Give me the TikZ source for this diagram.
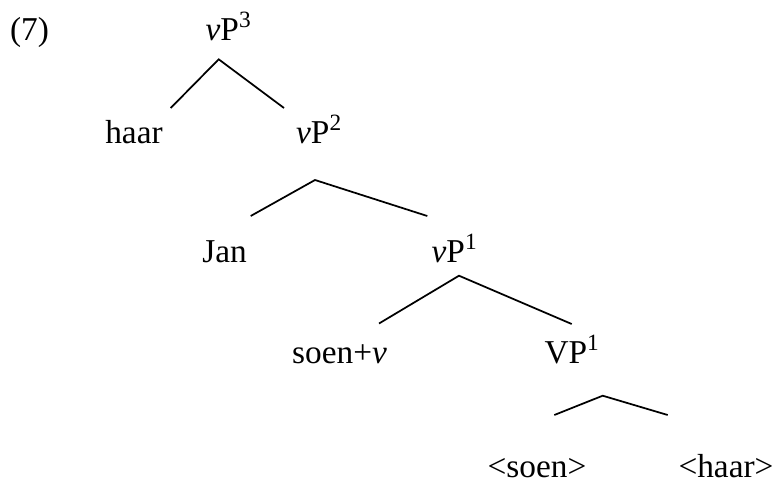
\documentclass[tikz,border=0pt]{standalone}
\usepackage{fontspec}
\setmainfont{Liberation Serif}
\usetikzlibrary{calc}

\begin{document}
\begin{tikzpicture}[x=0.75pt, y=-0.75pt, line width=1.3pt,
    every node/.style={inner sep=0pt, anchor=base, font=\fontsize{25}{30}\selectfont}]
  \useasboundingbox (0,0) rectangle (774,483);

  % example number and tree labels
  \node (ex)     at (29.5,40)  {(7)};
  \node (vP3)    at (228.5,40) {\textit{v}P\textsuperscript{3}};
  \node (haar)   at (134,143)  {haar};
  \node (vP2)    at (319,143)  {\textit{v}P\textsuperscript{2}};
  \node (Jan)    at (224.5,262) {Jan};
  \node (vP1)    at (454.5,262) {\textit{v}P\textsuperscript{1}};
  \node (soenv)  at (339.5,363) {soen+\textit{v}};
  \node (VP1)    at (572,363)  {VP\textsuperscript{1}};
  \node (tsoen)  at (537,477)  {<soen>};
  \node (thaar)  at (726,477)  {<haar>};

  % branches
  \coordinate (vP3-top) at (218.7,59.3);
  \coordinate (vP3-l)   at (170.7,108);
  \coordinate (vP3-r)   at (284,108);
  \draw (vP3-l) -- (vP3-top) -- (vP3-r);

  \coordinate (vP2-top) at (315,180);
  \coordinate (vP2-l)   at (250.7,216);
  \coordinate (vP2-r)   at (427.3,216);
  \draw (vP2-l) -- (vP2-top) -- (vP2-r);

  \coordinate (vP1-top) at (459,275.7);
  \coordinate (vP1-l)   at (379,323.5);
  \coordinate (vP1-r)   at (571.7,324);
  \draw (vP1-l) -- (vP1-top) -- (vP1-r);

  \coordinate (VP1-top) at (602.7,395.7);
  \coordinate (VP1-l)   at (554.3,415);
  \coordinate (VP1-r)   at (667.7,415);
  \draw (VP1-l) -- (VP1-top) -- (VP1-r);
\end{tikzpicture}
\end{document}
